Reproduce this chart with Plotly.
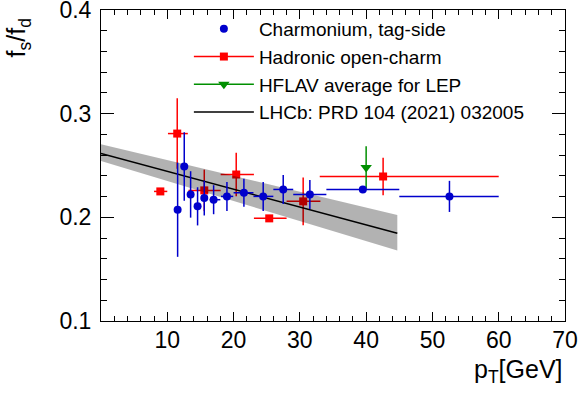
import plotly.graph_objects as go

# ---------------- data ----------------
# Charmonium, tag-side (blue)
blue_x = [11.56, 12.56, 13.52, 14.57, 15.58, 16.99, 19.0, 21.56, 24.47, 27.49, 31.51, 39.5, 52.57]
blue_y = [0.2073, 0.249, 0.2221, 0.2106, 0.2186, 0.217, 0.2202, 0.2237, 0.2202, 0.2269, 0.2221, 0.2269, 0.2202]
blue_yerr = [0.0454, 0.033, 0.0224, 0.0184, 0.0168, 0.014, 0.014, 0.0136, 0.014, 0.014, 0.014, 0.003, 0.015]
blue_xlo = [11.06, 12.06, 13.02, 14.07, 15.08, 16.4, 18.1, 20.0, 23.0, 26.0, 29.0, 34.0, 45.0]
blue_xhi = [12.06, 13.06, 14.02, 15.07, 16.08, 18.0, 19.95, 23.0, 26.0, 29.0, 34.0, 45.0, 60.0]

# Hadronic open-charm (red)
red_x = [8.95, 11.5, 15.58, 20.4, 25.38, 30.5, 42.56]
red_y = [0.225, 0.2808, 0.226, 0.2413, 0.199, 0.2154, 0.2394]
red_yerr = [0.003, 0.034, 0.02, 0.021, 0.003, 0.023, 0.018]
red_xlo = [8.0, 10.1, 13.2, 18.05, 23.07, 28.0, 33.0]
red_xhi = [10.0, 13.1, 18.05, 23.07, 28.0, 33.1, 60.0]

# HFLAV average for LEP (green)
green_x = [40.0]
green_y = [0.248]
green_yerr = [0.0205]

# LHCb: PRD 104 (2021) 032005 (line + band)
lhcb_pt = [0.0, 15.0, 30.0, 44.7]
lhcb_c = [0.2615, 0.2357, 0.2099, 0.1846]
lhcb_lo = [0.2544, 0.2254, 0.1964, 0.1679]
lhcb_hi = [0.2705, 0.2476, 0.2247, 0.2022]

x_ticks = [0, 10, 20, 30, 40, 50, 60, 70]
x_ticktext = ["", "10", "20", "30", "40", "50", "60", "70"]
y_ticks = [0.1, 0.2, 0.3, 0.4]

legend_labels = ["Charmonium, tag-side", "Hadronic open-charm",
                 "HFLAV average for LEP", "LHCb: PRD 104 (2021) 032005"]

BLUE = "#0000cc"
RED = "#ff0000"
GREEN = "#008f00"
FONT = "Liberation Sans, Arial, Helvetica, sans-serif"

fig = go.Figure()

# red points (drawn first, band overlays them)
fig.add_trace(go.Scatter(
    x=red_x, y=red_y, mode="markers",
    marker=dict(symbol="square", size=8, color=RED),
    error_y=dict(type="data", array=red_yerr, color=RED, thickness=1.5, width=0),
    error_x=dict(type="data", symmetric=False,
                 array=[h - x for h, x in zip(red_xhi, red_x)],
                 arrayminus=[x - l for l, x in zip(red_xlo, red_x)],
                 color=RED, thickness=1.5, width=0),
    showlegend=False, hoverinfo="skip"))

# LHCb band
fig.add_trace(go.Scatter(x=lhcb_pt, y=lhcb_lo, mode="lines", line=dict(width=0),
                         showlegend=False, hoverinfo="skip"))
fig.add_trace(go.Scatter(x=lhcb_pt, y=lhcb_hi, mode="lines", line=dict(width=0),
                         fill="tonexty", fillcolor="rgba(0,0,0,0.3)",
                         showlegend=False, hoverinfo="skip"))
fig.add_trace(go.Scatter(x=lhcb_pt, y=lhcb_c, mode="lines",
                         line=dict(color="black", width=1.5),
                         showlegend=False, hoverinfo="skip"))

# green point
fig.add_trace(go.Scatter(
    x=green_x, y=green_y, mode="markers",
    marker=dict(symbol="triangle-down", size=10, color=GREEN),
    error_y=dict(type="data", array=green_yerr, color=GREEN, thickness=1.5, width=0),
    showlegend=False, hoverinfo="skip"))

# blue points
fig.add_trace(go.Scatter(
    x=blue_x, y=blue_y, mode="markers",
    marker=dict(symbol="circle", size=8, color=BLUE),
    error_y=dict(type="data", array=blue_yerr, color=BLUE, thickness=1.5, width=0),
    error_x=dict(type="data", symmetric=False,
                 array=[h - x for h, x in zip(blue_xhi, blue_x)],
                 arrayminus=[x - l for l, x in zip(blue_xlo, blue_x)],
                 color=BLUE, thickness=1.5, width=0),
    showlegend=False, hoverinfo="skip"))

# legend entries
fig.add_trace(go.Scatter(x=[None], y=[None], mode="markers", name=legend_labels[0],
                         marker=dict(symbol="circle", size=8, color=BLUE)))
fig.add_trace(go.Scatter(x=[None], y=[None], mode="lines+markers", name=legend_labels[1],
                         marker=dict(symbol="square", size=8, color=RED),
                         line=dict(color=RED, width=1.5)))
fig.add_trace(go.Scatter(x=[None], y=[None], mode="lines+markers", name=legend_labels[2],
                         marker=dict(symbol="triangle-down", size=10, color=GREEN),
                         line=dict(color=GREEN, width=1.5)))
fig.add_trace(go.Scatter(x=[None], y=[None], mode="lines", name=legend_labels[3],
                         line=dict(color="black", width=1.5)))

axis_common = dict(showline=True, linecolor="black", linewidth=1, mirror="ticks",
                   ticks="inside", tickcolor="black", tickwidth=1,
                   showgrid=False, zeroline=False, automargin=False,
                   ticklabeloverflow="allow",
                   tickfont=dict(family=FONT, size=23, color="black"))

fig.update_xaxes(range=[0, 70], tickmode="array", tickvals=x_ticks, ticktext=x_ticktext,
                 ticklen=9, ticklabelstandoff=-2,
                 minor=dict(ticks="inside", ticklen=5, dtick=2, tick0=0,
                            tickcolor="black", tickwidth=1, showgrid=False),
                 **axis_common)
fig.update_yaxes(range=[0.1, 0.4], tickmode="array", tickvals=y_ticks,
                 ticktext=[f"{v:.1f}" for v in y_ticks], ticklen=13,
                 ticklabelstandoff=4,
                 minor=dict(ticks="inside", ticklen=6, dtick=0.02, tick0=0.1,
                            tickcolor="black", tickwidth=1, showgrid=False),
                 **axis_common)

fig.add_annotation(text="f<sub>s</sub>/f<sub>d</sub>", textangle=-90,
                   xref="paper", yref="paper", x=-0.178, y=0.91,
                   xanchor="center", yanchor="middle", showarrow=False,
                   font=dict(family=FONT, size=25, color="black"))
fig.add_annotation(text="p<sub>T</sub>[GeV]",
                   xref="paper", yref="paper", x=0.999, y=-0.102,
                   xanchor="right", yanchor="top", showarrow=False,
                   font=dict(family=FONT, size=25, color="black"))

fig.update_layout(
    width=580, height=398,
    margin=dict(l=101, r=15, t=10, b=77),
    paper_bgcolor="white", plot_bgcolor="white",
    font=dict(family=FONT, color="black"),
    legend=dict(x=0.1894, y=1.0, xanchor="left", yanchor="top",
                traceorder="normal",
                bgcolor="rgba(0,0,0,0)", font=dict(family=FONT, size=19, color="black"),
                itemwidth=60, tracegroupgap=0),
)

fig.write_html("out.html", config={"displayModeBar": False},
               post_script="document.body.style.margin='0px';")
